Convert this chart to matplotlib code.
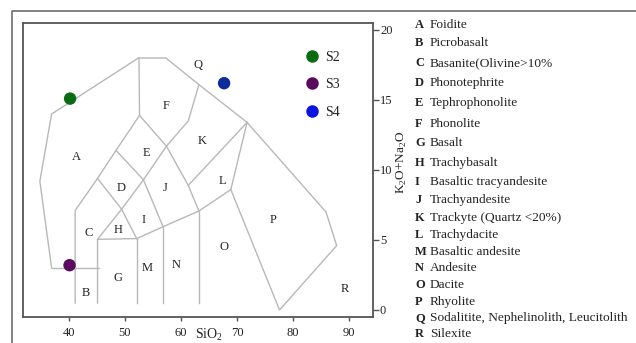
import matplotlib
matplotlib.use("Agg")
import matplotlib.pyplot as plt
from matplotlib.lines import Line2D

plt.rcParams['font.family'] = ['Liberation Serif', 'DejaVu Serif']
plt.rcParams['mathtext.fontset'] = 'custom'
plt.rcParams['mathtext.rm'] = 'Liberation Serif'

# ---- TAS field boundaries: (SiO2 wt%, Na2O+K2O wt%) ----
outer_boundary = [(36.9, 3.0), (34.8, 9.2), (36.9, 14.0), (52.4, 18.0), (57.3, 18.0),
                  (63.2, 16.1), (71.8, 13.4), (85.9, 7.0), (87.8, 4.6), (77.6, 0.0),
                  (68.9, 8.6), (71.8, 13.4)]
picrobasalt_top = [(36.9, 3.0), (45.4, 3.0)]
foidite_inner = [(41.1, 0.5), (41.1, 7.1), (45.1, 9.4), (48.4, 11.4), (52.6, 13.9), (52.5, 18.0)]
phonolite_base = [(52.6, 13.9), (57.4, 11.7), (61.3, 13.5), (63.2, 16.1)]
basanite_top = [(45.1, 9.4), (49.4, 7.2), (52.1, 5.1)]
subalkaline_top = [(45.1, 0.5), (45.1, 5.05), (52.1, 5.1), (56.8, 5.95), (63.2, 7.07), (68.9, 8.6)]
trachybasalt_line = [(45.1, 5.05), (49.4, 7.2), (53.3, 9.3), (57.4, 11.7)]
phonotephrite_line = [(48.4, 11.4), (53.3, 9.3), (56.8, 5.95)]
trachyandesite_right = [(57.4, 11.7), (61.3, 8.9), (63.2, 7.07)]
trachyte_base = [(61.3, 8.9), (71.8, 13.4)]
basalt_right = [(52.1, 0.5), (52.1, 5.1)]
andesite_left = [(56.8, 0.5), (56.8, 5.95)]
andesite_right = [(63.2, 0.5), (63.2, 7.07)]

boundaries = [outer_boundary, picrobasalt_top, foidite_inner, phonolite_base, basanite_top,
              subalkaline_top, trachybasalt_line, phonotephrite_line, trachyandesite_right,
              trachyte_base, basalt_right, andesite_left, andesite_right]

# ---- field letters ----
field_letters = ['Q', 'F', 'K', 'E', 'A', 'D', 'J', 'L', 'I', 'H', 'C', 'P', 'O', 'M', 'N', 'G', 'B', 'R']
field_x = [63.0, 57.4, 63.7, 53.9, 41.4, 49.4, 57.1, 67.4, 53.4, 48.8, 43.6, 76.4, 67.6, 54.0, 59.2, 48.8, 43.0, 89.2]
field_y = [17.5, 14.6, 12.1, 11.2, 10.95, 8.7, 8.7, 9.2, 6.4, 5.7, 5.5, 6.4, 4.5, 3.0, 3.2, 2.3, 1.2, 1.5]

# ---- samples ----
sample_names = ['S2', 'S3', 'S4']
sample_sio2 = [40.2, 40.1, 67.7]
sample_alkali = [15.1, 3.2, 16.2]
sample_colors = ['#0b6b12', '#5a0a5e', '#0c2c9c']
legend_colors = ['#0b6b12', '#5a0a5e', '#0a14e0']

# ---- rock-name key ----
rock_codes = ['A', 'B', 'C', 'D', 'E', 'F', 'G', 'H', 'I', 'J', 'K', 'L', 'M', 'N', 'O', 'P', 'Q', 'R']
rock_names = ['Foidite', 'Picrobasalt', 'Basanite(Olivine>10%', 'Phonotephrite',
              'Tephrophonolite', 'Phonolite', 'Basalt', 'Trachybasalt',
              'Basaltic tracyandesite', 'Trachyandesite', 'Trackyte (Quartz <20%)',
              'Trachydacite', 'Basaltic andesite', 'Andesite', 'Dacite', 'Rhyolite',
              'Sodalitite, Nephelinolith, Leucitolith', 'Silexite']

W, H = 636, 343
fig = plt.figure(figsize=(W / 100, H / 100), dpi=100)
ax = fig.add_axes([23 / W, 1 - 317 / H, 350 / W, 294 / H])

frame_col = '#555555'
line_col = '#b8b8b8'
text_col = '#222222'

for seg in boundaries:
    xs, ys = zip(*seg)
    ax.plot(xs, ys, color=line_col, lw=1.0, solid_joinstyle='miter', zorder=1)

for letter, x, y in zip(field_letters, field_x, field_y):
    ax.text(x, y, letter, ha='center', va='center', fontsize=9, color=text_col, zorder=2)

for x, y, c in zip(sample_sio2, sample_alkali, sample_colors):
    ax.scatter([x], [y], s=80, color=c, edgecolors='none', zorder=3)

handles = [Line2D([], [], ls='none', marker='o', markersize=9, color=c, markeredgewidth=0)
           for c in legend_colors]
ax.legend(handles, sample_names, loc='upper left', bbox_to_anchor=(0.785, 0.93),
          frameon=False, borderpad=0, handlelength=1.0, handletextpad=0.5,
          labelspacing=1.05, fontsize=10, labelcolor=text_col)

ax.set_xlim(31.79, 94.29)
ax.set_ylim(-0.5, 20.5)
ax.set_xticks([40, 50, 60, 70, 80, 90])
ax.set_yticks([0, 5, 10, 15, 20])
ax.yaxis.tick_right()
ax.tick_params(axis='x', direction='out', length=3, width=1, color=frame_col,
               labelsize=9, labelcolor=text_col, pad=4)
ax.tick_params(axis='y', direction='out', length=4, width=1, color=frame_col,
               labelsize=9, labelcolor=text_col, pad=1)
for sp in ax.spines.values():
    sp.set_color(frame_col)
    sp.set_linewidth(1.3)

fig.text(209 / W, 1 - 335 / H, r'SiO$_\mathregular{2}$', ha='center', va='center',
         fontsize=10, color=text_col)
fig.text(402 / W, 1 - 162 / H, r'K$_\mathregular{2}$O+Na$_\mathregular{2}$O', ha='center',
         va='center', rotation=90, fontsize=9.5, color=text_col)

# outer frame around the whole panel
fig.add_artist(Line2D([12 / W, 12 / W, 1.0], [0.0, 1 - 11 / H, 1 - 11 / H],
                      transform=fig.transFigure, color='#7a7a7a', lw=1.3))

key_y = [25, 43, 63, 83, 103, 124, 143, 163, 182, 200, 218, 235, 252, 268, 285, 302, 318, 334]
for code, name, y in zip(rock_codes, rock_names, key_y):
    fig.text(415 / W, 1 - y / H, code, ha='left', va='center', fontsize=9,
             fontweight='bold', color=text_col)
    fig.text(430 / W, 1 - y / H, name, ha='left', va='center', fontsize=9.6, color=text_col)

fig.savefig('out.png', dpi=100)
